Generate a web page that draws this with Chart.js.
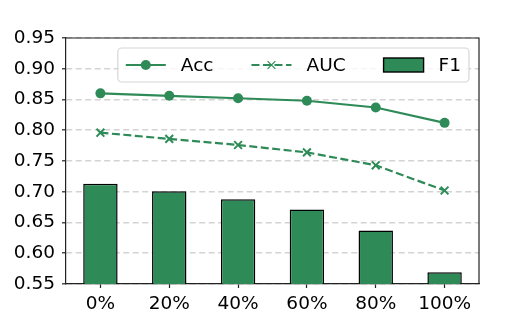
<!DOCTYPE html>
<html>
<head>
<meta charset="utf-8">
<script src="https://cdn.jsdelivr.net/npm/chart.js@4.4.0/dist/chart.umd.min.js"></script>
<style>
    html, body { margin: 0; padding: 0; background: #fff; }
    #caja { width: 532px; height: 319px; }
</style>
</head>
<body>
<div id="caja"><canvas id="grafico"></canvas></div>
<script>
// ── DATOS ─────────────────────────────────────
const categorias = ['0%', '20%', '40%', '60%', '80%', '100%'];
const acc = [0.860, 0.856, 0.852, 0.848, 0.837, 0.812];
const auc = [0.796, 0.786, 0.776, 0.764, 0.743, 0.702];
const f1  = [0.713, 0.701, 0.688, 0.671, 0.637, 0.569];
const ticksY = [0.55, 0.60, 0.65, 0.70, 0.75, 0.80, 0.85, 0.90, 0.95];

const VERDE = '#2e8b57';
const MARCO = '#222';
const FUENTE = '"DejaVu Sans", sans-serif';
const TAM = 18.5;

// ── MARCO SUPERIOR / DERECHO ──────────────────
const marcoPlugin = {
    id: 'marco',
    beforeDraw(chart) {
        const { ctx, width, height } = chart;
        ctx.save();
        ctx.fillStyle = '#fff';
        ctx.fillRect(0, 0, width, height);
        ctx.restore();
    },
    afterDatasetsDraw(chart) {
        const { ctx, chartArea: a } = chart;
        ctx.save();
        ctx.strokeStyle = MARCO;
        ctx.lineWidth = 1.2;
        ctx.beginPath();
        ctx.moveTo(a.left, a.top);
        ctx.lineTo(a.right, a.top);
        ctx.lineTo(a.right, a.bottom);
        ctx.stroke();
        ctx.restore();
    }
};

// ── LEYENDA ESTILO MATPLOTLIB ─────────────────
const leyendaPlugin = {
    id: 'leyenda',
    afterDraw(chart) {
        const { ctx, chartArea: a } = chart;
        const sets = chart.data.datasets;
        ctx.save();
        ctx.font = TAM + 'px ' + FUENTE;
        const mango = 40, sepTexto = 15, sepCol = 38, padIzq = 8, padDer = 8;
        let ancho = padIzq + padDer;
        sets.forEach((ds, i) => {
            ancho += mango + sepTexto + ctx.measureText(ds.label).width;
            if (i < sets.length - 1) ancho += sepCol;
        });
        const alto = 34;
        const x0 = a.right - 10 - ancho;
        const y0 = a.top + 10;
        const yc = y0 + alto / 2;

        ctx.beginPath();
        ctx.roundRect(x0, y0, ancho, alto, 4);
        ctx.fillStyle = 'rgba(255,255,255,0.8)';
        ctx.fill();
        ctx.strokeStyle = '#d6d6d6';
        ctx.lineWidth = 1.2;
        ctx.stroke();

        let x = x0 + padIzq;
        sets.forEach((ds) => {
            if (ds.type === 'bar') {
                ctx.fillStyle = VERDE;
                ctx.fillRect(x, yc - 7, mango, 14);
                ctx.strokeStyle = '#000';
                ctx.lineWidth = 1.4;
                ctx.strokeRect(x, yc - 7, mango, 14);
            } else {
                ctx.save();
                ctx.strokeStyle = ds.borderColor;
                ctx.lineWidth = ds.borderWidth;
                ctx.setLineDash(ds.borderDash || []);
                ctx.beginPath();
                ctx.moveTo(x, yc);
                ctx.lineTo(x + mango, yc);
                ctx.stroke();
                ctx.restore();
                ctx.fillStyle = ds.pointBackgroundColor;
                ctx.strokeStyle = ds.pointBorderColor;
                Chart.helpers.drawPoint(ctx, {
                    pointStyle: ds.pointStyle,
                    radius: ds.pointRadius,
                    borderWidth: ds.pointBorderWidth,
                    rotation: 0
                }, x + mango / 2, yc);
            }
            x += mango + sepTexto;
            ctx.fillStyle = '#000';
            ctx.textBaseline = 'middle';
            ctx.textAlign = 'left';
            ctx.fillText(ds.label, x, yc + 1);
            x += ctx.measureText(ds.label).width + sepCol;
        });
        ctx.restore();
    }
};

new Chart(document.getElementById('grafico'), {
    data: {
        labels: categorias,
        datasets: [
            {
                type: 'line',
                label: 'Acc',
                data: acc,
                borderColor: VERDE,
                borderWidth: 2.2,
                pointStyle: 'circle',
                pointRadius: 5,
                pointBackgroundColor: VERDE,
                pointBorderColor: VERDE,
                pointBorderWidth: 0,
                tension: 0,
                order: 1
            },
            {
                type: 'line',
                label: 'AUC',
                data: auc,
                borderColor: VERDE,
                borderWidth: 2.2,
                borderDash: [8, 3.5],
                pointStyle: 'crossRot',
                pointRadius: 5.5,
                pointBackgroundColor: VERDE,
                pointBorderColor: VERDE,
                pointBorderWidth: 2,
                tension: 0,
                order: 1
            },
            {
                type: 'bar',
                label: 'F1',
                data: f1,
                backgroundColor: VERDE,
                borderColor: '#000',
                borderWidth: 1.5,
                borderSkipped: false,
                barPercentage: 0.5,
                categoryPercentage: 1.0,
                order: 2
            }
        ]
    },
    options: {
        responsive: true,
        maintainAspectRatio: false,
        animation: false,
        layout: { padding: { left: 0, top: 38, right: 53, bottom: 0 } },
        plugins: {
            legend: { display: false },
            tooltip: { enabled: false }
        },
        scales: {
            x: {
                offset: true,
                afterFit: (s) => { s.height = 35; },
                grid: {
                    offset: false,
                    drawOnChartArea: false,
                    drawTicks: true,
                    tickLength: 4,
                    tickColor: MARCO,
                    tickWidth: 1.2
                },
                border: { display: true, color: MARCO, width: 1.2 },
                ticks: {
                    padding: 5,
                    color: '#000',
                    font: { family: FUENTE, size: TAM }
                }
            },
            y: {
                min: 0.55,
                max: 0.95,
                afterFit: (s) => { s.width = 66; },
                afterBuildTicks: (s) => { s.ticks = ticksY.map(v => ({ value: v })); },
                grid: {
                    color: '#d3d3d3',
                    lineWidth: 1.6,
                    drawTicks: true,
                    tickLength: 4,
                    tickColor: MARCO,
                    tickWidth: 1.2,
                    tickBorderDash: []
                },
                border: { display: true, color: MARCO, width: 1.2, dash: [6, 3.5] },
                ticks: {
                    padding: 7,
                    color: '#000',
                    font: { family: FUENTE, size: TAM },
                    callback: (v) => Number(v).toFixed(2)
                }
            }
        }
    },
    plugins: [marcoPlugin, leyendaPlugin]
});
</script>
</body>
</html>
